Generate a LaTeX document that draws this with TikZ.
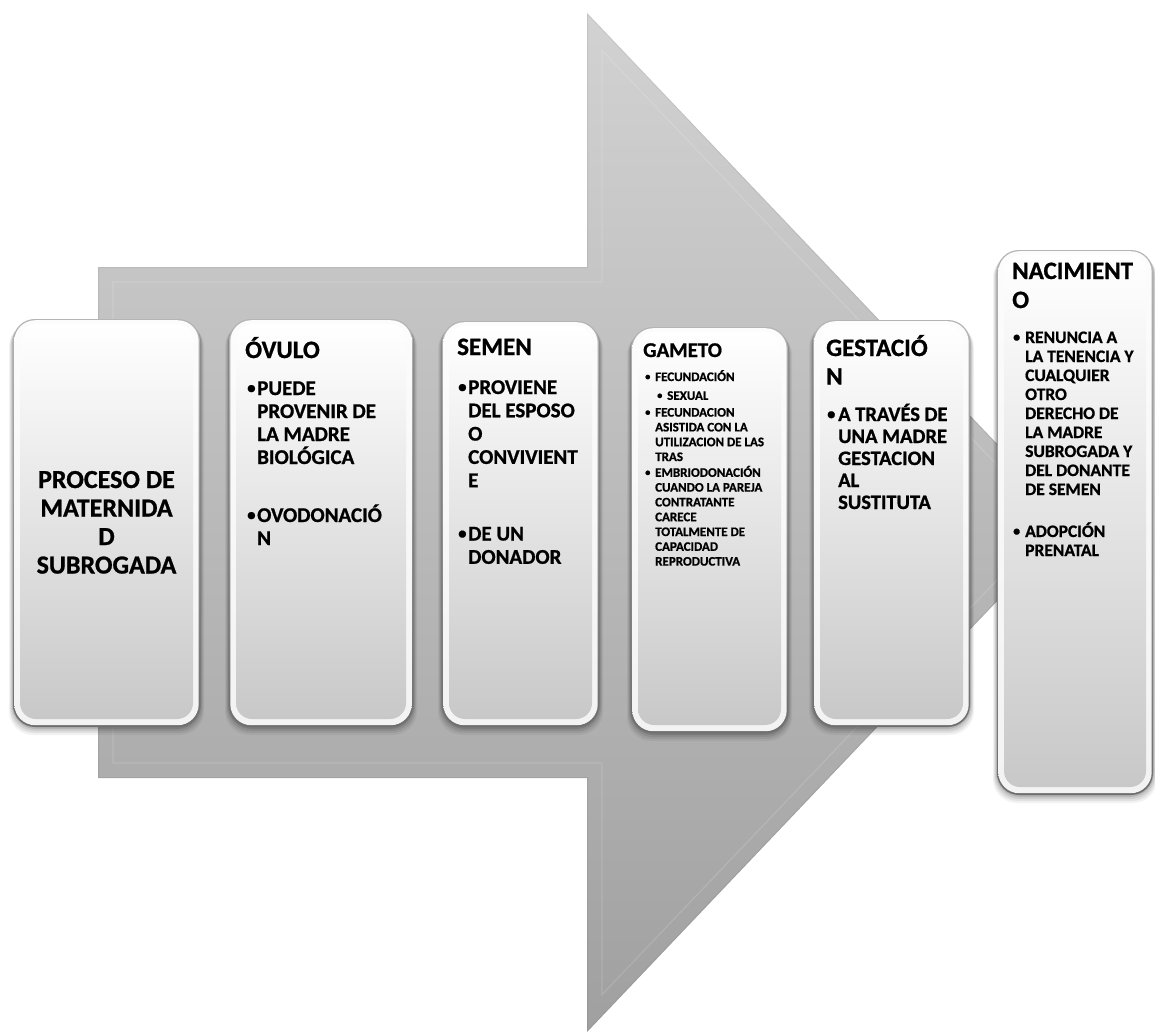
\documentclass[tikz,border=0pt]{standalone}
\usepackage{fontspec}
\setmainfont{Carlito}[BoldFeatures={FakeBold=0.9}]
\usetikzlibrary{fit}
\definecolor{arrtop}{HTML}{D2D2D2}
\definecolor{arrbot}{HTML}{A0A0A0}
\definecolor{edgetop}{HTML}{B4B4B4}
\definecolor{edgebot}{HTML}{6E6E6E}
\definecolor{rimtop}{HTML}{FCFCFC}
\definecolor{rimbot}{HTML}{F3F3F3}
\definecolor{boxmid}{HTML}{E8E8E8}
\definecolor{boxbot}{HTML}{C8C8C8}
\newcommand\bul[1]{\makebox[#1][l]{\raisebox{0.08em}{\scalebox{0.8}{•}}}}
\newcommand\hang[1]{\hspace*{#1}}
\newcommand\bevbox[5]{%
  \foreach \s/\o in {8/0.05,6/0.07,4/0.09,2/0.12}{%
    \fill[black,opacity=\o,rounded corners=24pt] (#2-\s/2,#3+\s/2) rectangle (#4+\s/2,#5+\s);}
  \shade[rounded corners=22pt, top color=edgetop, bottom color=edgebot] (#2,#3) rectangle (#4,#5);
  \shade[rounded corners=21pt, top color=rimtop, bottom color=rimbot] (#2+1.3,#3+1.2) rectangle (#4-1.3,#5-1.8);
  \shade[rounded corners=16pt, top color=white, middle color=boxmid, bottom color=boxbot] (#2+7,#3+5) rectangle (#4-7,#5-8);
  \node[fit={(#2,#3) (#4,#5)}, inner sep=0] (#1) {};
}
\begin{document}
\begin{tikzpicture}[x=1pt,y=-1pt]
\useasboundingbox (0,0) rectangle (1155,1032);
% big arrow
\shade[top color=arrtop, bottom color=arrbot]
  (98,267) -- (587,267) -- (587,13) -- (1072,522.5) -- (587,1032) -- (587,778) -- (98,778) -- cycle;
\draw[white, opacity=0.14, line width=1.2pt]
  (113,282) -- (602,282) -- (602,50.4) -- (1051.8,522.5) -- (602,994.6) -- (602,763) -- (113,763) -- cycle;
\draw[black, opacity=0.06, line width=1pt]
  (98.5,267.5) -- (587.5,267.5) -- (587.5,14) -- (1071,522.5) -- (587.5,1031) -- (587.5,777.5) -- (98.5,777.5) -- cycle;

% boxes
\bevbox{box1}{13}{319}{200}{727}
\bevbox{box2}{229}{319}{413}{727}
\bevbox{box3}{442}{321}{599}{727}
\bevbox{box4}{631}{327}{788}{733}
\bevbox{box5}{813}{320}{970}{727}
\bevbox{box6}{997}{250}{1153}{795}

% box 1
\node[anchor=base, inner sep=0] (t1) at (106.5,488) {\begin{minipage}[t]{187pt}\centering\fontsize{26}{28.5}\selectfont\bfseries
PROCESO DE\\ MATERNIDA\\ D\\ SUBROGADA\end{minipage}};

% box 2
\node[anchor=base west, inner sep=0] (t2) at (245,358) {\fontsize{25}{28.5}\selectfont\bfseries ÓVULO};
\node[anchor=base west, inner sep=0] (b2) at (247,395) {\begin{minipage}[t]{170pt}\fontsize{21}{23}\selectfont\bfseries
\bul{10pt}PUEDE\\ \hang{10pt}PROVENIR DE\\ \hang{10pt}LA MADRE\\ \hang{10pt}BIOLÓGICA\\[35pt]
\bul{10pt}OVODONACIÓ\\ \hang{10pt}N\end{minipage}};

% box 3
\node[anchor=base west, inner sep=0] (t3) at (457,355) {\fontsize{25}{28.5}\selectfont\bfseries SEMEN};
\node[anchor=base west, inner sep=0] (b3) at (458,394) {\begin{minipage}[t]{140pt}\fontsize{21}{23.3}\selectfont\bfseries
\bul{10pt}PROVIENE\\ \hang{10pt}DEL ESPOSO\\ \hang{10pt}O\\ \hang{10pt}CONVIVIENT\\ \hang{10pt}E\\[30pt]
\bul{10pt}DE UN\\ \hang{10pt}DONADOR\end{minipage}};

% box 4
\node[anchor=base west, inner sep=0] (t4) at (643,357) {\fontsize{21}{25}\selectfont\bfseries GAMETO};
\node[anchor=base west, inner sep=0] (b4) at (645,381) {\begin{minipage}[t]{140pt}\fontsize{13}{14.8}\selectfont\bfseries
\bul{10pt}FECUNDACIÓN\\[4pt] \hang{12pt}\bul{10pt}SEXUAL\\[2pt]
\bul{10pt}FECUNDACION\\ \hang{10pt}ASISTIDA CON LA\\ \hang{10pt}UTILIZACION DE LAS\\ \hang{10pt}TRAS\\[1pt]
\bul{10pt}EMBRIODONACIÓN\\ \hang{10pt}CUANDO LA PAREJA\\ \hang{10pt}CONTRATANTE\\ \hang{10pt}CARECE\\ \hang{10pt}TOTALMENTE DE\\ \hang{10pt}CAPACIDAD\\ \hang{10pt}REPRODUCTIVA\end{minipage}};

% box 5
\node[anchor=base west, inner sep=0] (t5) at (826,356) {\begin{minipage}[t]{140pt}\fontsize{25}{28.5}\selectfont\bfseries GESTACIÓ\\ N\end{minipage}};
\node[anchor=base west, inner sep=0] (b5) at (827,421) {\begin{minipage}[t]{140pt}\fontsize{20.5}{22}\selectfont\bfseries
\bul{11pt}A TRAVÉS DE\\ \hang{11pt}UNA MADRE\\ \hang{11pt}GESTACION\\ \hang{11pt}AL\\ \hang{11pt}SUSTITUTA\end{minipage}};

% box 6
\node[anchor=base west, inner sep=0] (t6) at (1012,279) {\begin{minipage}[t]{140pt}\fontsize{25}{29}\selectfont\bfseries NACIMIENT\\ O\end{minipage}};
\node[anchor=base west, inner sep=0] (b6) at (1013,343) {\begin{minipage}[t]{140pt}\fontsize{17.5}{19}\selectfont\bfseries
\bul{12pt}RENUNCIA A\\ \hang{12pt}LA TENENCIA Y\\ \hang{12pt}CUALQUIER\\ \hang{12pt}OTRO\\ \hang{12pt}DERECHO DE\\ \hang{12pt}LA MADRE\\ \hang{12pt}SUBROGADA Y\\ \hang{12pt}DEL DONANTE\\ \hang{12pt}DE SEMEN\\[23pt]
\bul{12pt}ADOPCIÓN\\ \hang{12pt}PRENATAL\end{minipage}};
\end{tikzpicture}
\end{document}
